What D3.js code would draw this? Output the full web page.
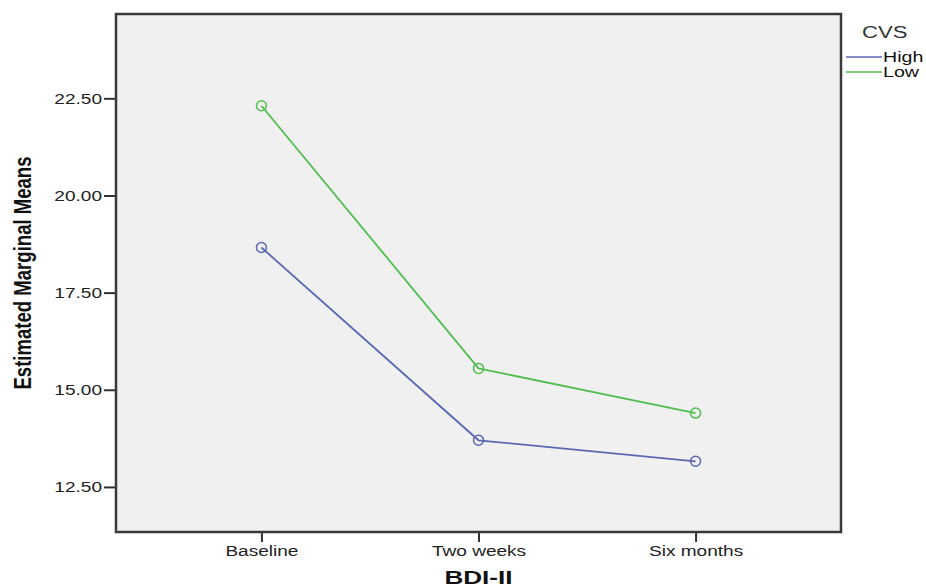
<!DOCTYPE html>
<html>
<head>
<meta charset="utf-8">
<script src="https://cdn.jsdelivr.net/npm/d3@7"></script>
<style>
  body { margin: 0; background: #fff; }
  text { font-family: Arial, "Liberation Sans", sans-serif; }
</style>
</head>
<body>
<svg width="926" height="588"></svg>
<script>
// data
const timepoints = ['Baseline', 'Two weeks', 'Six months'];
const highValues = [18.66, 13.70, 13.16];
const lowValues = [22.31, 15.55, 14.40];
const yTicks = [12.5, 15, 17.5, 20, 22.5];
const groupNames = ['High', 'Low'];

const svg = d3.select('svg');

const plot = { left: 116, right: 841, top: 14, bottom: 532 };

const xScale = d3.scalePoint()
    .domain(timepoints)
    .range([plot.left, plot.right])
    .padding(0.67);

const yScale = d3.scaleLinear()
    .domain([11.34, 24.67])
    .range([plot.bottom, plot.top]);

const colorScale = d3.scaleOrdinal()
    .domain(groupNames)
    .range(['#5a68b4', '#50be50']);

const series = [
    { name: 'High', values: highValues },
    { name: 'Low', values: lowValues }
];

// SPSS text looks horizontally stretched
const stretch = (sel, k) => sel.each(function() {
    const w = this.getComputedTextLength();
    d3.select(this)
        .attr('textLength', w * k)
        .attr('lengthAdjust', 'spacingAndGlyphs');
});

// plot background
svg.append('rect')
    .attr('x', plot.left)
    .attr('y', plot.top)
    .attr('width', plot.right - plot.left)
    .attr('height', plot.bottom - plot.top)
    .attr('fill', '#f0f0f0');

// axes
const yAxis = d3.axisLeft(yScale)
    .tickValues(yTicks)
    .tickFormat(d3.format('.2f'))
    .tickSize(12)
    .tickPadding(2);

const xAxis = d3.axisBottom(xScale)
    .tickSize(10)
    .tickPadding(4);

const yG = svg.append('g')
    .attr('transform', `translate(${plot.left},0)`)
    .call(yAxis);

const xG = svg.append('g')
    .attr('transform', `translate(0,${plot.bottom})`)
    .call(xAxis);

[yG, xG].forEach(g => {
    g.select('.domain').remove();
    g.selectAll('line').attr('stroke', '#333').attr('stroke-width', 2);
    g.selectAll('text')
        .attr('fill', '#222')
        .style('font-size', '14px')
        .style('font-family', 'Arial, "Liberation Sans", sans-serif')
        .call(stretch, 1.36);
});
yG.selectAll('text').attr('dy', '0.36em');

// frame
svg.append('rect')
    .attr('x', plot.left)
    .attr('y', plot.top)
    .attr('width', plot.right - plot.left)
    .attr('height', plot.bottom - plot.top)
    .attr('fill', 'none')
    .attr('stroke', '#3a3a3a')
    .attr('stroke-width', 2.5);

// lines
const line = d3.line()
    .x((d, i) => xScale(timepoints[i]))
    .y(d => yScale(d));

svg.selectAll('.series')
    .data(series)
    .enter().append('path')
        .attr('class', 'series')
        .attr('d', d => line(d.values))
        .attr('fill', 'none')
        .attr('stroke', d => colorScale(d.name))
        .attr('stroke-width', 1.8);

series.forEach(s => {
    svg.selectAll(null)
        .data(s.values)
        .enter().append('circle')
            .attr('cx', (d, i) => xScale(timepoints[i]))
            .attr('cy', d => yScale(d))
            .attr('r', 5)
            .attr('fill', 'none')
            .attr('stroke', colorScale(s.name))
            .attr('stroke-width', 1.5);
});

// axis titles
svg.append('text')
    .attr('transform', 'translate(31,273) rotate(-90)')
    .attr('text-anchor', 'middle')
    .attr('textLength', 233)
    .attr('lengthAdjust', 'spacingAndGlyphs')
    .style('font-family', '"Liberation Sans Narrow", "Liberation Sans", Arial, sans-serif')
    .style('font-weight', 'bold')
    .style('font-size', '23px')
    .attr('fill', '#111')
    .text('Estimated Marginal Means');

svg.append('text')
    .attr('x', xScale('Two weeks'))
    .attr('y', 584)
    .attr('text-anchor', 'middle')
    .style('font-weight', 'bold')
    .style('font-size', '18px')
    .attr('fill', '#111')
    .text('BDI-II')
    .call(stretch, 1.45);

// legend
svg.append('text')
    .attr('x', 862)
    .attr('y', 38)
    .style('font-size', '16px')
    .attr('fill', '#333')
    .text('CVS')
    .call(stretch, 1.38);

const legend = svg.selectAll('.legend')
    .data(groupNames)
    .enter().append('g')
        .attr('class', 'legend')
        .attr('transform', (d, i) => `translate(846,${57 + i * 15})`);

legend.append('line')
    .attr('x1', 0).attr('x2', 36)
    .attr('stroke', d => colorScale(d))
    .attr('stroke-width', 1.5);

legend.append('text')
    .attr('x', 37)
    .attr('dy', '0.36em')
    .style('font-size', '14px')
    .attr('fill', '#111')
    .text(d => d)
    .call(stretch, 1.4);
</script>
</body>
</html>
